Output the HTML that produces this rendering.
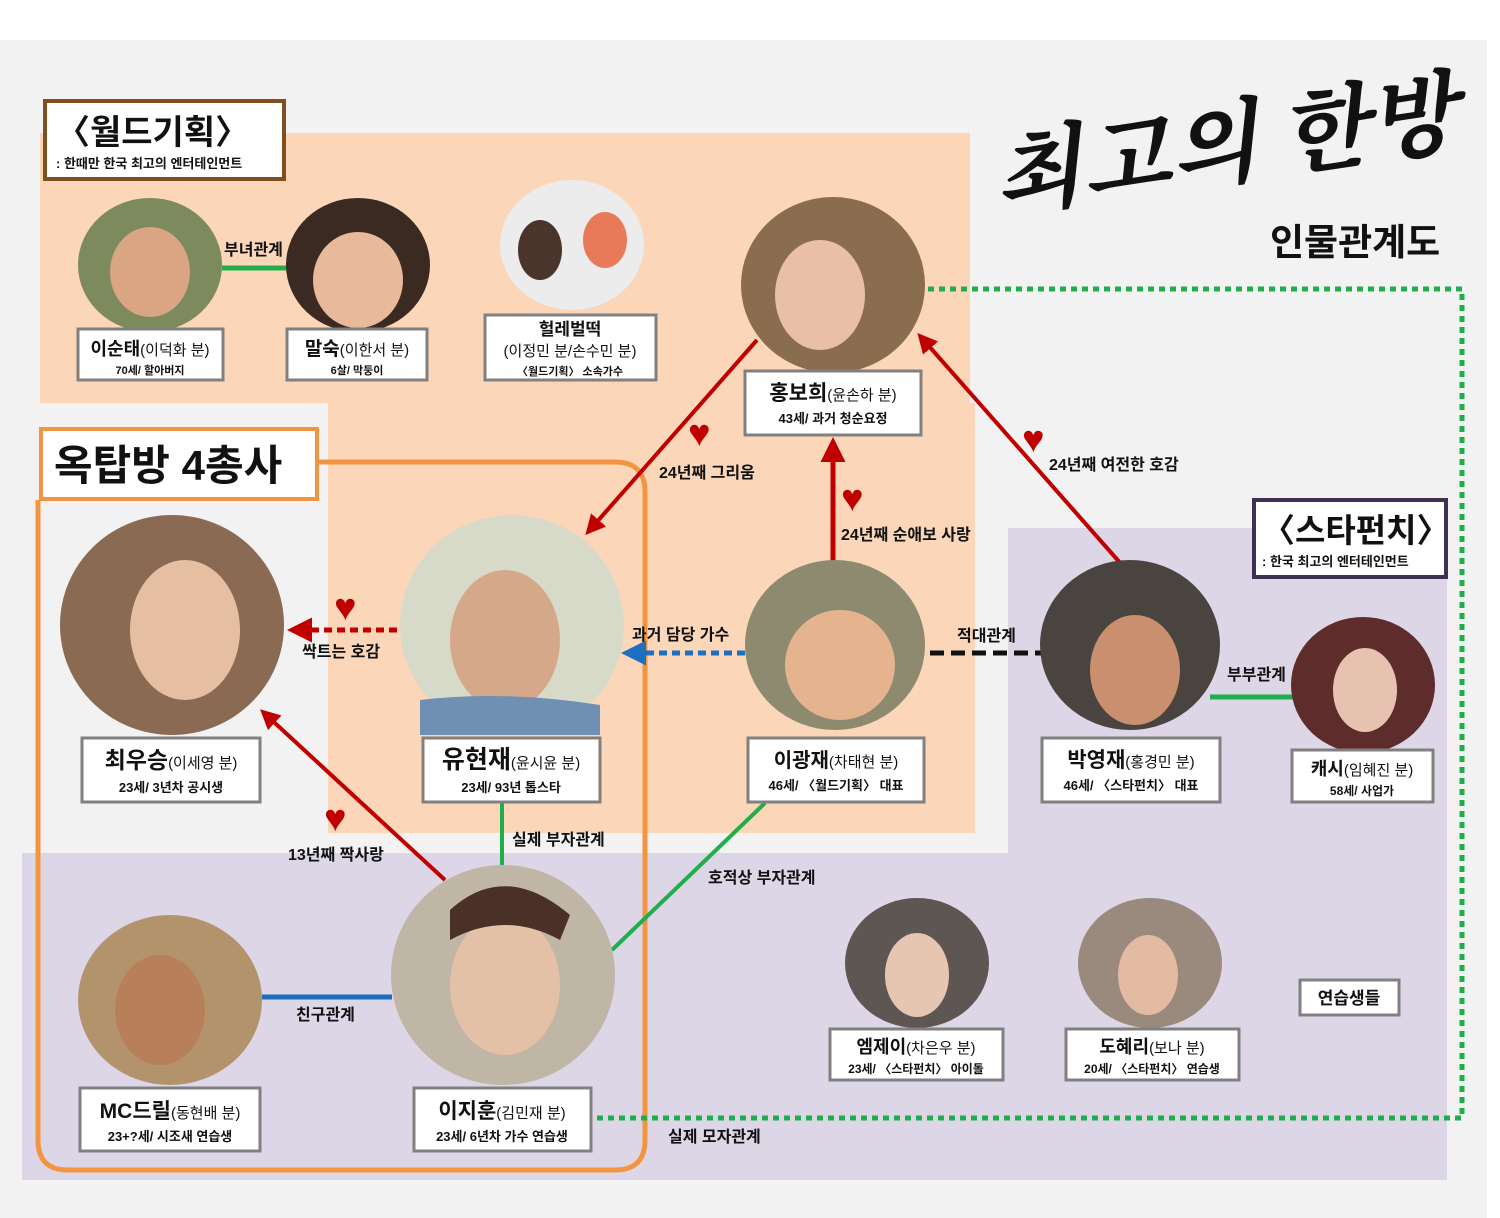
<!DOCTYPE html>
<html><head><meta charset="utf-8"><style>
html,body{margin:0;padding:0;background:#fff}
svg{display:block}
text{font-family:"Liberation Sans","Noto Sans CJK KR",sans-serif;font-weight:bold;fill:#111}
.n{font-size:21px}.p{font-size:15px;font-weight:normal}.s{font-size:13px}
.l{font-size:16px}
</style></head><body>
<svg width="1500" height="1218" viewBox="0 0 1500 1218" xmlns="http://www.w3.org/2000/svg">
<defs>
<marker id="ar" viewBox="0 0 10 10" refX="8" refY="5" markerWidth="5" markerHeight="5" orient="auto-start-reverse"><path d="M0,0L10,5L0,10z" fill="#c00000"/></marker>
<marker id="ab" viewBox="0 0 10 10" refX="8" refY="5" markerWidth="5" markerHeight="5" orient="auto"><path d="M0,0L10,5L0,10z" fill="#1f6fc0"/></marker>
</defs>
<rect x="0" y="40" width="1487" height="1178" fill="#f2f2f2"/>
<!-- peach -->
<rect x="40" y="133" width="930" height="270" fill="#fbd6b8"/>
<rect x="328" y="403" width="647" height="430" fill="#fbd6b8"/>
<!-- lavender -->
<rect x="1008" y="528" width="439" height="325" fill="#dcd6e7"/>
<rect x="22" y="853" width="1425" height="327" fill="#dcd6e7"/>
<rect x="975" y="853" width="33" height="0" fill="#dcd6e7"/>

<!-- orange group -->
<path d="M318,462 H615 Q645,462 645,492 V1140 Q645,1170 615,1170 H68 Q38,1170 38,1140 V500" fill="none" stroke="#f39540" stroke-width="5"/>

<!-- title -->
<text x="990" y="180" style="font-size:92px;font-family:'Liberation Serif','Noto Serif CJK SC',serif;font-style:italic;font-weight:bold" transform="rotate(-8 1200 140)">최고의 한방</text>
<text x="1270" y="255" style="font-size:37px">인물관계도</text>

<!-- connectors -->
<line x1="222" y1="268" x2="288" y2="268" stroke="#1fae4b" stroke-width="5"/>
<line x1="757" y1="340" x2="588" y2="532" stroke="#c00000" stroke-width="4" marker-end="url(#ar)"/>
<line x1="1122" y1="565" x2="920" y2="336" stroke="#c00000" stroke-width="4" marker-end="url(#ar)"/>
<line x1="833" y1="565" x2="833" y2="442" stroke="#c00000" stroke-width="5" marker-end="url(#ar)"/>
<line x1="397" y1="630" x2="292" y2="630" stroke="#c00000" stroke-width="5" stroke-dasharray="8,5" marker-end="url(#ar)"/>
<line x1="745" y1="653" x2="626" y2="653" stroke="#1f6fc0" stroke-width="5" stroke-dasharray="8,5" marker-end="url(#ab)"/>
<line x1="930" y1="653" x2="1042" y2="653" stroke="#111" stroke-width="5" stroke-dasharray="14,7"/>
<line x1="1210" y1="697" x2="1293" y2="697" stroke="#1fae4b" stroke-width="5"/>
<line x1="445" y1="880" x2="263" y2="712" stroke="#c00000" stroke-width="4" marker-end="url(#ar)"/>
<line x1="502" y1="803" x2="502" y2="865" stroke="#1fae4b" stroke-width="4"/>
<line x1="765" y1="803" x2="612" y2="950" stroke="#1fae4b" stroke-width="4"/>
<line x1="262" y1="997" x2="392" y2="997" stroke="#1f6fc0" stroke-width="5"/>
<polyline points="928,289 1462,289 1462,1118 593,1118" fill="none" stroke="#1fae4b" stroke-width="5" stroke-dasharray="6,5"/>

<!-- photos -->
<g stroke="none">
<ellipse cx="150" cy="265" rx="72" ry="67" fill="#7c8a5e"/>
<ellipse cx="150" cy="272" rx="40" ry="45" fill="#d9a582"/>
<ellipse cx="358" cy="265" rx="72" ry="67" fill="#3a2a22"/>
<ellipse cx="358" cy="280" rx="45" ry="48" fill="#e8b99a"/>
<ellipse cx="572" cy="245" rx="72" ry="65" fill="#ececec"/>
<ellipse cx="540" cy="250" rx="22" ry="30" fill="#4a352c"/><ellipse cx="605" cy="240" rx="22" ry="28" fill="#e87a5a"/>
<ellipse cx="833" cy="285" rx="92" ry="88" fill="#8a6c4f"/>
<ellipse cx="820" cy="295" rx="45" ry="55" fill="#e9c0a5"/>
<ellipse cx="172" cy="625" rx="112" ry="110" fill="#8a6a52"/>
<ellipse cx="185" cy="630" rx="55" ry="70" fill="#e6bea2"/>
<ellipse cx="512" cy="625" rx="112" ry="110" fill="#d8dac9"/>
<ellipse cx="505" cy="640" rx="55" ry="70" fill="#d6a88a"/>
<path d="M420,700 Q505,690 600,705 L600,735 L420,735z" fill="#6f8fb3"/>
<ellipse cx="835" cy="645" rx="90" ry="85" fill="#8d8a70"/>
<ellipse cx="840" cy="665" rx="55" ry="55" fill="#e5b48e"/>
<ellipse cx="1130" cy="645" rx="90" ry="85" fill="#4a4440"/>
<ellipse cx="1135" cy="670" rx="45" ry="55" fill="#c98f6e"/>
<ellipse cx="1363" cy="685" rx="72" ry="68" fill="#5e2d2b"/>
<ellipse cx="1365" cy="690" rx="32" ry="42" fill="#e8c2b0"/>
<ellipse cx="170" cy="1000" rx="92" ry="85" fill="#b2936c"/>
<ellipse cx="160" cy="1010" rx="45" ry="55" fill="#b8805a"/>
<ellipse cx="503" cy="975" rx="112" ry="110" fill="#bfb6a6"/>
<ellipse cx="505" cy="985" rx="55" ry="70" fill="#e4c0a6"/>
<path d="M450,910 Q505,860 570,915 L560,940 Q505,910 450,940z" fill="#4a3026"/>
<ellipse cx="917" cy="963" rx="72" ry="65" fill="#5d5652"/>
<ellipse cx="917" cy="975" rx="32" ry="42" fill="#e6c6b0"/>
<ellipse cx="1150" cy="963" rx="72" ry="65" fill="#9a8a7e"/>
<ellipse cx="1148" cy="975" rx="30" ry="40" fill="#e2bba2"/>
</g>

<!-- hearts -->
<g style="font-size:38px;fill:#c00000">
<text x="688" y="446" style="fill:#c00000">♥</text>
<text x="841" y="511" style="fill:#c00000">♥</text>
<text x="1022" y="452" style="fill:#c00000">♥</text>
<text x="334" y="620" style="fill:#c00000">♥</text>
<text x="324" y="831" style="fill:#c00000">♥</text>
</g>

<!-- connector labels -->
<text class="l" x="224" y="255">부녀관계</text>
<text class="l" x="659" y="478">24년째 그리움</text>
<text class="l" x="841" y="540">24년째 순애보 사랑</text>
<text class="l" x="1049" y="470">24년째 여전한 호감</text>
<text class="l" x="302" y="657">싹트는 호감</text>
<text class="l" x="632" y="640">과거 담당 가수</text>
<text class="l" x="957" y="641">적대관계</text>
<text class="l" x="1227" y="680">부부관계</text>
<text class="l" x="288" y="860">13년째 짝사랑</text>
<text class="l" x="512" y="845">실제 부자관계</text>
<text class="l" x="708" y="883">호적상 부자관계</text>
<text class="l" x="296" y="1020">친구관계</text>
<text class="l" x="668" y="1142">실제 모자관계</text>

<!-- group title boxes -->
<rect x="45" y="101" width="239" height="78" fill="#fff" stroke="#7f4f20" stroke-width="4"/>
<text x="56" y="144" style="font-size:34px">〈월드기획〉</text>
<text x="56" y="168" class="s">: 한때만 한국 최고의 엔터테인먼트</text>
<rect x="41" y="429" width="276" height="70" fill="#fff" stroke="#f39540" stroke-width="4"/>
<text x="54" y="480" style="font-size:42px">옥탑방 4총사</text>
<rect x="1254" y="500" width="192" height="77" fill="#fff" stroke="#3f3151" stroke-width="4"/>
<text x="1262" y="542" style="font-size:33px">〈스타펀치〉</text>
<text x="1262" y="566" class="s">: 한국 최고의 엔터테인먼트</text>

<!-- node labels -->
<g fill="#fff" stroke="#808080" stroke-width="3">
<rect x="78" y="329" width="145" height="51"/>
<rect x="287" y="329" width="140" height="51"/>
<rect x="485" y="315" width="171" height="65"/>
<rect x="745" y="371" width="176" height="64"/>
<rect x="82" y="738" width="178" height="64"/>
<rect x="423" y="738" width="177" height="64"/>
<rect x="748" y="738" width="176" height="64"/>
<rect x="1042" y="738" width="178" height="64"/>
<rect x="1292" y="750" width="141" height="52"/>
<rect x="80" y="1088" width="180" height="63"/>
<rect x="414" y="1088" width="177" height="63"/>
<rect x="830" y="1029" width="173" height="51"/>
<rect x="1066" y="1029" width="173" height="51"/>
<rect x="1300" y="980" width="99" height="35"/>
</g>
<g text-anchor="middle">
<text x="150" y="355"><tspan class="n" style="font-size:18px">이순태</tspan><tspan class="p">(이덕화 분)</tspan></text>
<text x="150" y="374" class="s" style="font-size:11px">70세/ 할아버지</text>
<text x="357" y="355"><tspan class="n" style="font-size:19px">말숙</tspan><tspan class="p">(이한서 분)</tspan></text>
<text x="357" y="374" class="s" style="font-size:11px">6살/ 막둥이</text>
<text x="570" y="335" style="font-size:17px">헐레벌떡</text>
<text x="570" y="356" class="p">(이정민 분/손수민 분)</text>
<text x="570" y="375" class="s" style="font-size:11px">〈월드기획〉 소속가수</text>
<text x="833" y="400"><tspan class="n">홍보희</tspan><tspan class="p">(윤손하 분)</tspan></text>
<text x="833" y="423" class="s">43세/ 과거 청순요정</text>
<text x="171" y="768"><tspan class="n" style="font-size:23px">최우승</tspan><tspan class="p">(이세영 분)</tspan></text>
<text x="171" y="792" class="s">23세/ 3년차 공시생</text>
<text x="511" y="768"><tspan class="n" style="font-size:25px">유현재</tspan><tspan class="p">(윤시윤 분)</tspan></text>
<text x="511" y="792" class="s">23세/ 93년 톱스타</text>
<text x="836" y="767"><tspan class="n" style="font-size:20px">이광재</tspan><tspan class="p">(차태현 분)</tspan></text>
<text x="836" y="790" class="s">46세/ 〈월드기획〉 대표</text>
<text x="1131" y="767"><tspan class="n">박영재</tspan><tspan class="p">(홍경민 분)</tspan></text>
<text x="1131" y="790" class="s">46세/ 〈스타펀치〉 대표</text>
<text x="1362" y="775"><tspan class="n" style="font-size:18px">캐시</tspan><tspan class="p">(임혜진 분)</tspan></text>
<text x="1362" y="795" class="s" style="font-size:12px">58세/ 사업가</text>
<text x="170" y="1118"><tspan class="n">MC드릴</tspan><tspan class="p">(동현배 분)</tspan></text>
<text x="170" y="1141" class="s">23+?세/ 시조새  연습생</text>
<text x="502" y="1118"><tspan class="n">이지훈</tspan><tspan class="p">(김민재 분)</tspan></text>
<text x="502" y="1141" class="s">23세/ 6년차 가수 연습생</text>
<text x="916" y="1053"><tspan class="n" style="font-size:18px">엠제이</tspan><tspan class="p">(차은우 분)</tspan></text>
<text x="916" y="1073" class="s" style="font-size:12px">23세/ 〈스타펀치〉 아이돌</text>
<text x="1152" y="1053"><tspan class="n" style="font-size:18px">도혜리</tspan><tspan class="p">(보나 분)</tspan></text>
<text x="1152" y="1073" class="s" style="font-size:12px">20세/ 〈스타펀치〉 연습생</text>
<text x="1349" y="1004" style="font-size:17px">연습생들</text>
</g>
</svg>
</body></html>
